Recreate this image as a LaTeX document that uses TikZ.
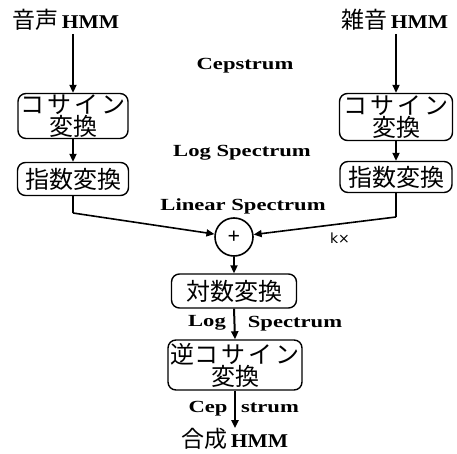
\documentclass[tikz,border=0pt]{standalone}
\usepackage{fontspec}
\usepackage{graphicx}
\setmainfont{Liberation Serif}
\newfontfamily\jp{Noto Sans CJK JP}
\newfontfamily\dv{DejaVu Sans}
\usetikzlibrary{arrows.meta}
\newcommand{\lbl}[1]{\scalebox{1.33}[1]{\fontsize{17}{17}\selectfont\bfseries #1}}
\newcommand{\ttl}[2]{{\fontsize{23}{23}\selectfont\jp #1}\hspace{3pt}\scalebox{1.1}[1]{\fontsize{19.5}{19.5}\selectfont\bfseries HMM}}
\begin{document}
\begin{tikzpicture}[x=1pt,y=-1pt,
  box/.style={draw,line width=1.4pt,rounded corners=8pt,inner sep=0pt,align=center,
     font=\jp\fontsize{24}{22}\selectfont},
  conn/.style={line width=2pt},
  arr/.style={line width=2pt,-{Triangle[length=8pt,width=7pt]}},
  lab/.style={inner sep=0pt,anchor=base}]
\useasboundingbox (0,0) rectangle (457,454);
\fill[white] (0,0) rectangle (457,454);
% titles
\node[inner sep=0pt] (t1) at (66,20) {\ttl{音声}{}};
\node[inner sep=0pt] (t2) at (395,20) {\ttl{雑音}{}};
% left column
\node[box,minimum width=110pt,minimum height=45pt] (b1) at (73,116) {コ\hspace{3pt}サ\hspace{3pt}イ\hspace{3pt}ン\\変換};
\node[box,minimum width=111pt,minimum height=33pt] (b2) at (73,179) {指数変換};
% right column
\node[box,minimum width=113pt,minimum height=47pt] (b3) at (396,117) {コ\hspace{3pt}サ\hspace{3pt}イ\hspace{3pt}ン\\変換};
\node[box,minimum width=112pt,minimum height=31pt] (b4) at (396,177) {指数変換};
% sum
\node[draw,circle,line width=1.6pt,minimum size=38pt,inner sep=0pt,font=\bfseries\fontsize{22}{22}\selectfont] (sum) at (234,237) {+};
% lower
\node[box,minimum width=125pt,minimum height=34pt] (b5) at (234,291) {対数変換};
\node[box,minimum width=134pt,minimum height=50pt] (b6) at (235,365) {逆コ\hspace{3pt}サ\hspace{3pt}イ\hspace{3pt}ン\\変換};
\node[inner sep=0pt] (out) at (235,439) {\ttl{合成}{}};
% connectors
\coordinate (cL) at (73,213);
\coordinate (cR) at (396,217);
\draw[arr] (t1.south -| b1.north) ++(0,3) -- (b1.north);
\draw[arr] (t2.south -| b3.north) ++(0,3) -- (b3.north);
\draw[arr] (b1.south) -- (b2.north);
\draw[arr] (b3.south) -- (b4.north);
\draw[conn] (b2.south) -- (cL);
\draw[conn] (b4.south) -- (cR);
\draw[line width=1.6pt,-{Triangle[length=8pt,width=7pt]}] (cL) -- (sum);
\draw[line width=1.6pt,-{Triangle[length=8pt,width=7pt]}] (cR) -- (sum);
\draw[arr] (sum.south) -- (b5.north);
\draw[arr] (b5.south) -- (b6.north);
\draw[arr] (b6.south) -- (out.north);
% labels
\node[lab] (l1) at (245,70) {\lbl{Cepstrum}};
\node[lab] (l2) at (242,157) {\lbl{Log Spectrum}};
\node[lab] (l3) at (243,211) {\lbl{Linear Spectrum}};
\node[inner sep=0pt] (k) at (340,238) {\dv\fontsize{14}{14}\selectfont k×};
\node[lab] (l4) at (207,326) {\lbl{Log}};
\node[lab] (l5) at (295,327) {\lbl{Spectrum}};
\node[lab] (l6) at (208,412) {\lbl{Cep}};
\node[lab] (l7) at (270,412) {\lbl{strum}};
\end{tikzpicture}
\end{document}
